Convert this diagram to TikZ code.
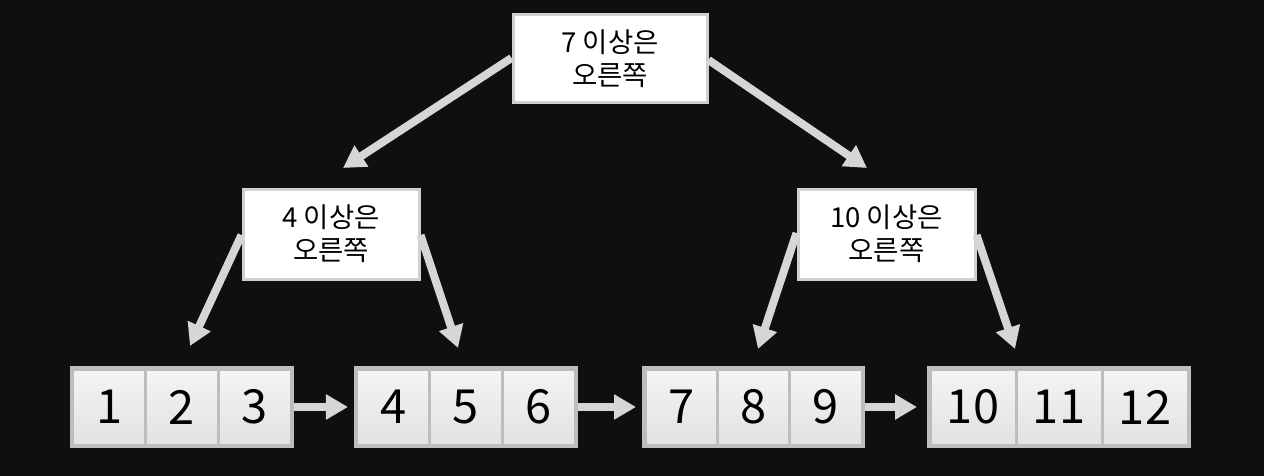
\documentclass[tikz,border=0pt]{standalone}
\usepackage{fontspec}
\setmainfont{Noto Sans CJK KR}
\usetikzlibrary{arrows.meta,fit,positioning}
\definecolor{bgc}{HTML}{0F0F0F}
\definecolor{arrowc}{HTML}{D6D6D6}
\definecolor{boxborder}{HTML}{D0D0D0}
\definecolor{cellborder}{HTML}{BDBDBD}
\definecolor{celltop}{HTML}{F4F4F4}
\definecolor{cellbot}{HTML}{E2E2E2}
\tikzset{
  rulebox/.style={draw=boxborder, line width=3pt, fill=white, minimum height=88pt,
    inner sep=0pt, align=center, font=\fontsize{27.5}{33}\selectfont, text=black},
  cell/.style={draw=cellborder, line width=3pt, top color=celltop, bottom color=cellbot,
    minimum height=76pt, inner sep=0pt, font=\fontsize{47}{47}\selectfont, text=black},
  frame/.style={draw=cellborder, line width=3pt, inner sep=0pt},
  bigarrow/.style={draw=arrowc, line width=8pt, -{Triangle[length=22pt,width=24pt]}, color=arrowc},
}
\begin{document}
\begin{tikzpicture}[x=1pt,y=-1pt]
\fill[bgc] (0,0) rectangle (1264,476);
\useasboundingbox (0,0) rectangle (1264,476);

% rule boxes
\node[rulebox, minimum width=194pt] (top) at (610,59) {7 이상은\\오른쪽};
\node[rulebox, minimum width=176pt, minimum height=90pt] (midL) at (331,234) {4 이상은\\오른쪽};
\node[rulebox, minimum width=177pt, minimum height=90pt] (midR) at (886.5,234) {10 이상은\\오른쪽};

% leaf cells
\foreach \i/\t in {0/1,1/2,2/3}{
  \node[cell, minimum width=72.67pt] (a\i) at ({73+36.33+\i*72.67},407) {\t};
}
\foreach \i/\t in {0/4,1/5,2/6}{
  \node[cell, minimum width=72.67pt] (b\i) at ({357+36.33+\i*72.67},407) {\t};
}
\foreach \i/\t in {0/7,1/8,2/9}{
  \node[cell, minimum width=72.33pt] (c\i) at ({645+36.17+\i*72.33},407) {\t};
}
\foreach \i/\t in {0/10,1/11,2/12}{
  \node[cell, minimum width=86pt] (d\i) at ({930+43+\i*86},407) {\t};
}
\node[frame, fit=(a0)(a2)] (g1) {};
\node[frame, fit=(b0)(b2)] (g2) {};
\node[frame, fit=(c0)(c2)] (g3) {};
\node[frame, fit=(d0)(d2)] (g4) {};

% arrow tips
\coordinate (tL) at (343,168);
\coordinate (tR) at (867,168);
\coordinate (l1) at (190,346);
\coordinate (l2) at (458,348);
\coordinate (r1) at (758,349);
\coordinate (r2) at (1015,349);

\draw[bigarrow] ([yshift=1pt]top.west) -- (tL);
\draw[bigarrow] ([yshift=-1pt]top.east) -- (tR);
\draw[bigarrow] ([yshift=-1pt]midL.west) -- (l1);
\draw[bigarrow] ([yshift=-1pt]midL.east) -- (l2);
\draw[bigarrow] ([yshift=1pt]midR.west) -- (r1);
\draw[bigarrow] ([yshift=-1pt]midR.east) -- (r2);

% leaf links
\draw[bigarrow, shorten >=6pt] (g1.east) -- (g2.west);
\draw[bigarrow, shorten >=6pt] (g2.east) -- (g3.west);
\draw[bigarrow, shorten >=10pt] (g3.east) -- (g4.west);
\end{tikzpicture}
\end{document}
